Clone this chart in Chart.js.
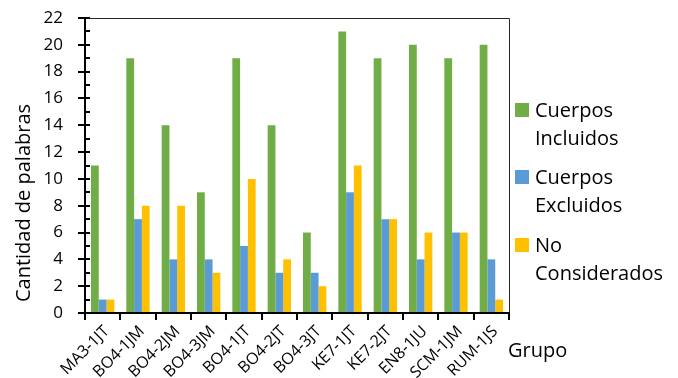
<!DOCTYPE html>
<html>
<head>
<meta charset="utf-8">
<script src="https://cdn.jsdelivr.net/npm/chart.js@4"></script>
<style>
  html, body { margin: 0; padding: 0; background: #fff; }
  #wrap { width: 678px; height: 378px; }
</style>
</head>
<body>
<div id="wrap"><canvas id="c" width="678" height="378"></canvas></div>
<script>
// Groups and word counts per category
const grupos = ['MA3-1JT', 'BO4-1JM', 'BO4-2JM', 'BO4-3JM', 'BO4-1JT', 'BO4-2JT',
                'BO4-3JT', 'KE7-1JT', 'KE7-2JT', 'EN8-1JU', 'SCM-1JM', 'RUM-1JS'];
const cuerposIncluidos = [11, 19, 14, 9, 19, 14, 6, 21, 19, 20, 19, 20];
const cuerposExcluidos = [1, 7, 4, 4, 5, 3, 3, 9, 7, 4, 6, 4];
const noConsiderados   = [1, 8, 8, 3, 10, 4, 2, 11, 7, 6, 6, 1];

const seriesNames = [['Cuerpos', 'Incluidos'], ['Cuerpos', 'Excluidos'], ['No', 'Considerados']];
const seriesColors = ['#70AD47', '#5B9BD5', '#FFC000'];

const FONT = "'Open Sans', sans-serif";

// Axes, ticks, frame, titles and the two-line legend
const decorations = {
  id: 'decorations',
  afterDraw(chart) {
    const ctx = chart.ctx;
    const a = chart.chartArea;
    const y = chart.scales.y;
    ctx.save();

    // thin frame on top and right
    ctx.strokeStyle = '#262626';
    ctx.lineWidth = 1;
    ctx.beginPath();
    ctx.moveTo(a.left, a.top + 0.5); ctx.lineTo(a.right + 0.5, a.top + 0.5);
    ctx.lineTo(a.right + 0.5, a.bottom);
    ctx.stroke();

    // value axis and category axis
    ctx.strokeStyle = '#000';
    ctx.lineWidth = 2;
    ctx.beginPath();
    ctx.moveTo(a.left, a.top); ctx.lineTo(a.left, a.bottom + 1);
    ctx.moveTo(a.left - 1, a.bottom); ctx.lineTo(a.right + 1, a.bottom);
    // major ticks cross the axis, minor ticks sit inside
    for (let v = 0; v <= 22; v++) {
      const py = Math.round(y.getPixelForValue(v));
      if (v % 2 === 0) { ctx.moveTo(a.left - 7, py); ctx.lineTo(a.left + 5, py); }
      else { ctx.moveTo(a.left, py); ctx.lineTo(a.left + 5, py); }
    }
    // category ticks between groups
    const n = grupos.length;
    const step = (a.right - a.left) / n;
    for (let i = 0; i <= n; i++) {
      const px = Math.round(a.left + i * step);
      ctx.moveTo(px, a.bottom); ctx.lineTo(px, a.bottom + 7);
    }
    ctx.stroke();

    // axis titles
    ctx.fillStyle = '#000';
    ctx.font = '20px ' + FONT;
    ctx.textBaseline = 'middle';
    ctx.textAlign = 'left';
    ctx.fillText('Grupo', 508, 351);
    ctx.save();
    ctx.translate(24, 203);
    ctx.rotate(-Math.PI / 2);
    ctx.textAlign = 'center';
    ctx.fillText('Cantidad de palabras', 0, 0);
    ctx.restore();

    // legend
    ctx.textBaseline = 'alphabetic';
    ctx.textAlign = 'left';
    const legendTop = [103, 170, 238];
    seriesNames.forEach((lines, i) => {
      const t = legendTop[i];
      ctx.fillStyle = seriesColors[i];
      ctx.fillRect(515, t, 14, 14);
      ctx.fillStyle = '#000';
      ctx.fillText(lines[0], 535, t + 14);
      ctx.fillText(lines[1], 535, t + 42);
    });
    ctx.restore();
  }
};

const ds = (label, data, color) => ({
  label, data, backgroundColor: color, borderWidth: 0,
  categoryPercentage: 0.66, barPercentage: 1
});

new Chart(document.getElementById('c'), {
  type: 'bar',
  data: {
    labels: grupos,
    datasets: [
      ds('Cuerpos Incluidos', cuerposIncluidos, seriesColors[0]),
      ds('Cuerpos Excluidos', cuerposExcluidos, seriesColors[1]),
      ds('No Considerados', noConsiderados, seriesColors[2])
    ]
  },
  options: {
    responsive: false,
    animation: false,
    devicePixelRatio: 1,
    layout: { padding: { left: 0, top: 18, right: 169, bottom: 0 } },
    plugins: { legend: { display: false }, tooltip: { enabled: false } },
    scales: {
      x: {
        grid: { display: false, drawTicks: false },
        border: { display: false },
        ticks: {
          color: '#000', font: { family: FONT, size: 16 },
          maxRotation: 45, minRotation: 45, autoSkip: false,
          padding: 9, labelOffset: 4
        },
        afterFit(s) { s.height = 65; s.paddingLeft = 0; s.paddingRight = 0; }
      },
      y: {
        min: 0, max: 22,
        grid: { display: false, drawTicks: false },
        border: { display: false },
        ticks: {
          stepSize: 2, color: '#000', padding: 22,
          font: { family: FONT, size: 17 }
        },
        afterFit(s) { s.width = 85; s.paddingTop = 0; s.paddingBottom = 0; }
      }
    }
  },
  plugins: [decorations]
});
</script>
</body>
</html>
